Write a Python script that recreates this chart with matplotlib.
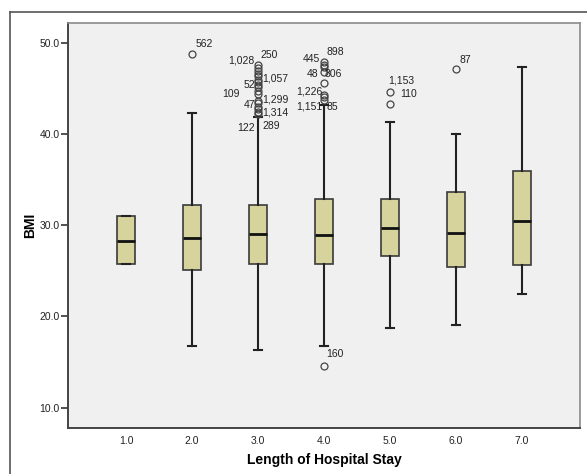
import matplotlib
matplotlib.use("Agg")
import matplotlib.pyplot as plt
from matplotlib.lines import Line2D

plt.rcParams['font.family'] = ['Liberation Sans', 'DejaVu Sans']

# data
stay = [1, 2, 3, 4, 5, 6, 7]
tick_labels = ['1.0', '2.0', '3.0', '4.0', '5.0', '6.0', '7.0']
med = [28.3, 28.6, 29.0, 28.9, 29.7, 29.2, 30.5]
q1 = [25.8, 25.1, 25.7, 25.8, 26.6, 25.4, 25.6]
q3 = [31.0, 32.2, 32.2, 32.9, 32.9, 33.6, 35.9]
whis_lo = [25.8, 16.8, 16.3, 16.8, 18.7, 19.1, 22.5]
whis_hi = [31.0, 42.3, 41.9, 43.2, 41.3, 40.0, 47.3]
outliers = [
    [],
    [48.8],
    [47.6, 47.2, 46.9, 46.6, 46.3, 45.9, 45.7, 45.4, 45.1, 44.7, 44.4,
     43.6, 43.4, 43.0, 42.7, 42.4, 42.2],
    [47.9, 47.6, 47.3, 46.8, 45.6, 44.3, 44.0, 43.7, 14.6],
    [44.6, 43.3],
    [47.1],
    [],
]

# case ids next to outliers: (group, text, x offset px, y of label, align)
case_labels = [
    (2, '562', 4, 49.9, 'left'),
    (3, '1,028', -4, 48.0, 'right'),
    (3, '250', 2, 48.7, 'left'),
    (3, '1,057', 4, 46.1, 'left'),
    (3, '52', -3, 45.4, 'right'),
    (3, '109', -18, 44.4, 'right'),
    (3, '1,299', 4, 43.8, 'left'),
    (3, '47', -3, 43.2, 'right'),
    (3, '1,314', 4, 42.3, 'left'),
    (3, '122', -3, 40.7, 'right'),
    (3, '289', 4, 40.9, 'left'),
    (4, '445', -4, 48.2, 'right'),
    (4, '898', 3, 49.0, 'left'),
    (4, '48', -6, 46.6, 'right'),
    (4, '806', 1, 46.6, 'left'),
    (4, '1,226', -2, 44.6, 'right'),
    (4, '1,151', -2, 43.0, 'right'),
    (4, '85', 3, 43.0, 'left'),
    (4, '160', 2, 15.9, 'left'),
    (5, '1,153', -2, 45.9, 'left'),
    (5, '110', 10, 44.4, 'left'),
    (6, '87', 4, 48.1, 'left'),
]

fig = plt.figure(figsize=(5.87, 4.74), dpi=100)
ax = fig.add_axes([68 / 587, 1 - 428 / 474, 512 / 587, 405 / 474])
ax.set_facecolor('#f0f0f0')

stats = []
for i in range(len(stay)):
    stats.append({'med': med[i], 'q1': q1[i], 'q3': q3[i],
                  'whislo': whis_lo[i], 'whishi': whis_hi[i],
                  'fliers': outliers[i]})

ax.bxp(stats, positions=stay, widths=0.27, capwidths=0.13,
       patch_artist=True, showfliers=True,
       boxprops=dict(facecolor='#d6d39c', edgecolor='#3a3a3a', linewidth=1.2),
       medianprops=dict(color='#111111', linewidth=2),
       whiskerprops=dict(color='#222222', linewidth=1.5),
       capprops=dict(color='#222222', linewidth=1.5),
       flierprops=dict(marker='o', markersize=5, markerfacecolor='none',
                       markeredgecolor='#444444', markeredgewidth=0.9))

for g, txt, dx, y, ha in case_labels:
    ax.text(g + dx / 66, y, txt, ha=ha, va='center', fontsize=7.5, color='#222222')

ax.set_xlim(0.12, 7.88)
ax.set_ylim(7.78, 52.16)
ax.set_xticks(stay)
ax.set_xticklabels(tick_labels)
ax.set_yticks([10, 20, 30, 40, 50])
ax.set_yticklabels(['10.0', '20.0', '30.0', '40.0', '50.0'])
ax.tick_params(axis='x', length=0, pad=6, labelsize=7.5, labelcolor='#222222')
ax.tick_params(axis='y', length=5, width=1.2, color='#333333', labelsize=7.5,
               labelcolor='#222222', pad=1)

for side in ['left', 'bottom']:
    ax.spines[side].set_color('#444444')
    ax.spines[side].set_linewidth(1.4)
for side in ['top', 'right']:
    ax.spines[side].set_color('#8a8a8a')
    ax.spines[side].set_linewidth(1.2)

ax.set_xlabel('Length of Hospital Stay', fontsize=10, fontweight='bold', labelpad=5)
ax.set_ylabel('BMI', fontsize=10, fontweight='bold', labelpad=2)

# outer frame of the output window
fig.add_artist(Line2D([10 / 587, 1.0], [1 - 12 / 474, 1 - 12 / 474],
                      color='#555555', linewidth=1.2))
fig.add_artist(Line2D([10 / 587, 10 / 587], [0.0, 1 - 12 / 474],
                      color='#555555', linewidth=1.2))

fig.savefig('out.png', dpi=100)
